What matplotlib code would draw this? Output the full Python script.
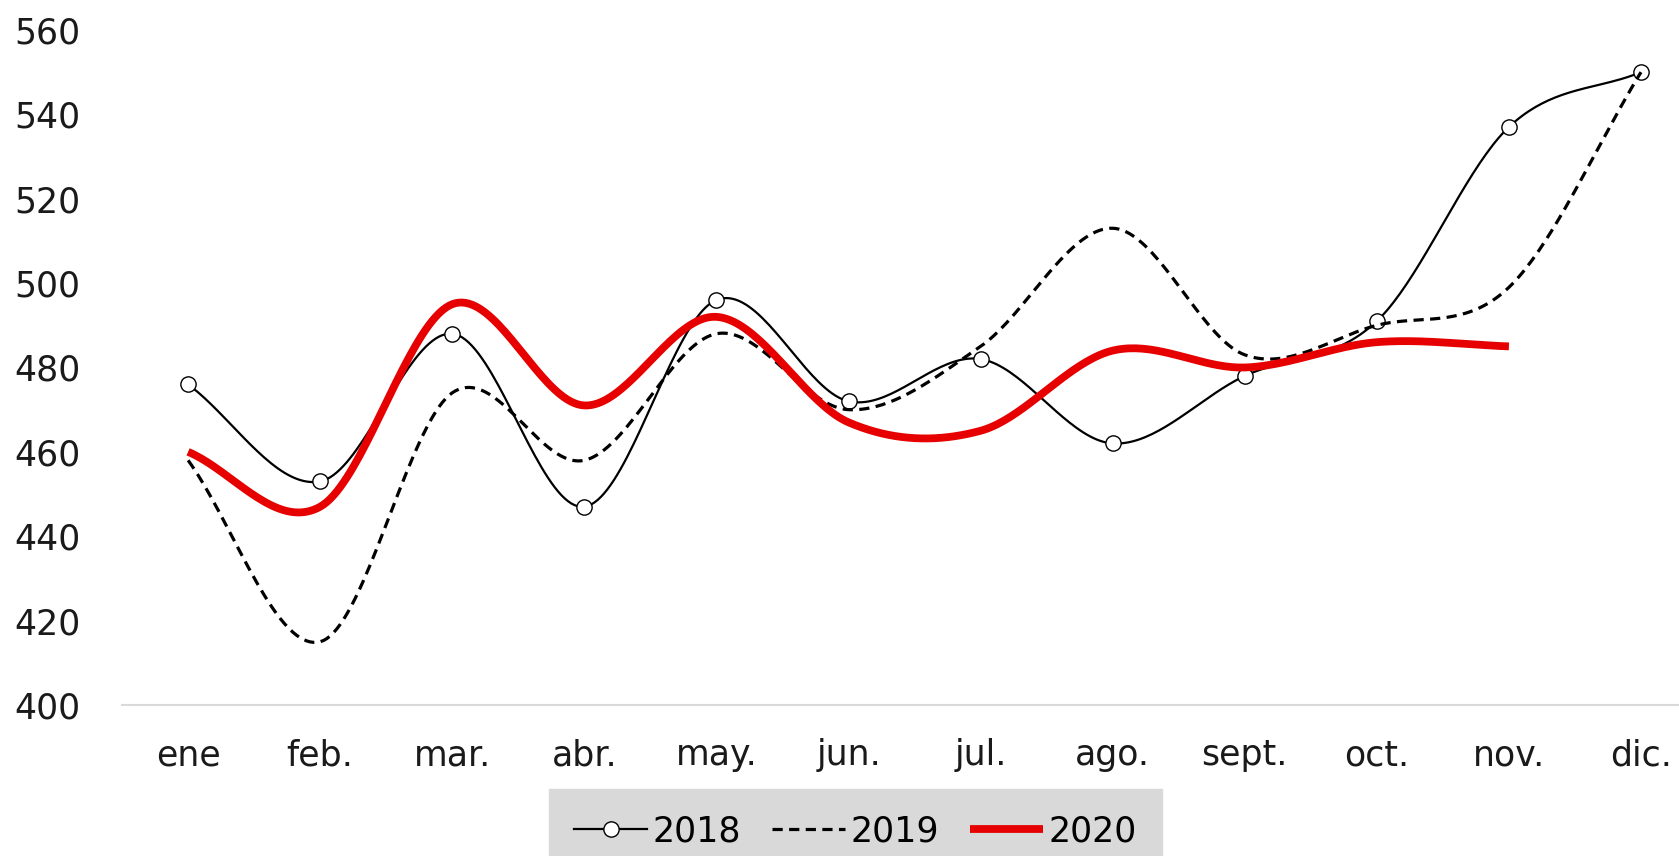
import matplotlib
matplotlib.use("Agg")
import matplotlib.pyplot as plt
import numpy as np

# Data
months = ["ene", "feb.", "mar.", "abr.", "may.", "jun.", "jul.", "ago.",
          "sept.", "oct.", "nov.", "dic."]
v2018 = [476, 453, 488, 447, 496, 472, 482, 462, 478, 491, 537, 550]
v2019 = [458, 415, 474, 458, 488, 470, 485, 513, 483, 490, 499, 550]
v2020 = [460, 447, 495, 471, 492, 467, 465, 484, 480, 486, 485]

STEPS = 40


def smooth(vals, steps=STEPS):
    """Cubic Hermite (Catmull-Rom like) curve through the points, like Excel's smoothed line."""
    y = np.asarray(vals, dtype=float)
    m = np.empty_like(y)
    m[1:-1] = (y[2:] - y[:-2]) / 2
    m[0] = y[1] - y[0]
    m[-1] = y[-1] - y[-2]
    t = np.linspace(0, 1, steps, endpoint=False)
    h00 = 2 * t**3 - 3 * t**2 + 1
    h10 = t**3 - 2 * t**2 + t
    h01 = -2 * t**3 + 3 * t**2
    h11 = t**3 - t**2
    xs, ys = [], []
    for i in range(len(y) - 1):
        xs.append(i + t)
        ys.append(h00 * y[i] + h10 * m[i] + h01 * y[i + 1] + h11 * m[i + 1])
    xs.append([len(y) - 1])
    ys.append([y[-1]])
    return np.concatenate(xs), np.concatenate(ys)


plt.rcParams["font.family"] = ["DejaVu Sans"]

fig = plt.figure(figsize=(16.79, 8.56), dpi=100)
ax = fig.add_axes([0.0727, 0.1764, 0.944, 0.7886])

x18, y18 = smooth(v2018)
x19, y19 = smooth(v2019)
x20, y20 = smooth(v2020)

ax.plot(x18, y18, color="black", lw=1.6, marker="o", markevery=STEPS,
        markersize=11, markerfacecolor="white", markeredgecolor="black",
        markeredgewidth=1.0, label="2018")
ax.plot(x19, y19, color="black", lw=2.3, dashes=(3.2, 2.0), label="2019")
ax.plot(x20, y20, color="#e60000", lw=5.6, solid_capstyle="butt", label="2020")

ax.set_xlim(-0.5, 11.5)
ax.set_ylim(400, 560)
ax.set_yticks(np.arange(400, 561, 20))
ax.set_xticks(range(len(months)))
ax.set_xticklabels(months)

for side in ["left", "right", "top"]:
    ax.spines[side].set_visible(False)
ax.spines["bottom"].set_color("#d9d9d9")
ax.spines["bottom"].set_linewidth(1.5)
ax.tick_params(axis="both", length=0, labelsize=25, colors="#1a1a1a")
ax.tick_params(axis="y", pad=30)
ax.tick_params(axis="x", pad=24)

leg = fig.legend(loc="lower center", bbox_to_anchor=(0.5095, -0.02), ncol=3,
                 fontsize=25, frameon=True, fancybox=False, facecolor="#d9d9d9",
                 edgecolor="#d9d9d9", handlelength=2.1, handletextpad=0.15,
                 columnspacing=0.9, borderpad=0.72, borderaxespad=0)
leg.get_frame().set_alpha(1)

fig.savefig("out.png", dpi=100)
